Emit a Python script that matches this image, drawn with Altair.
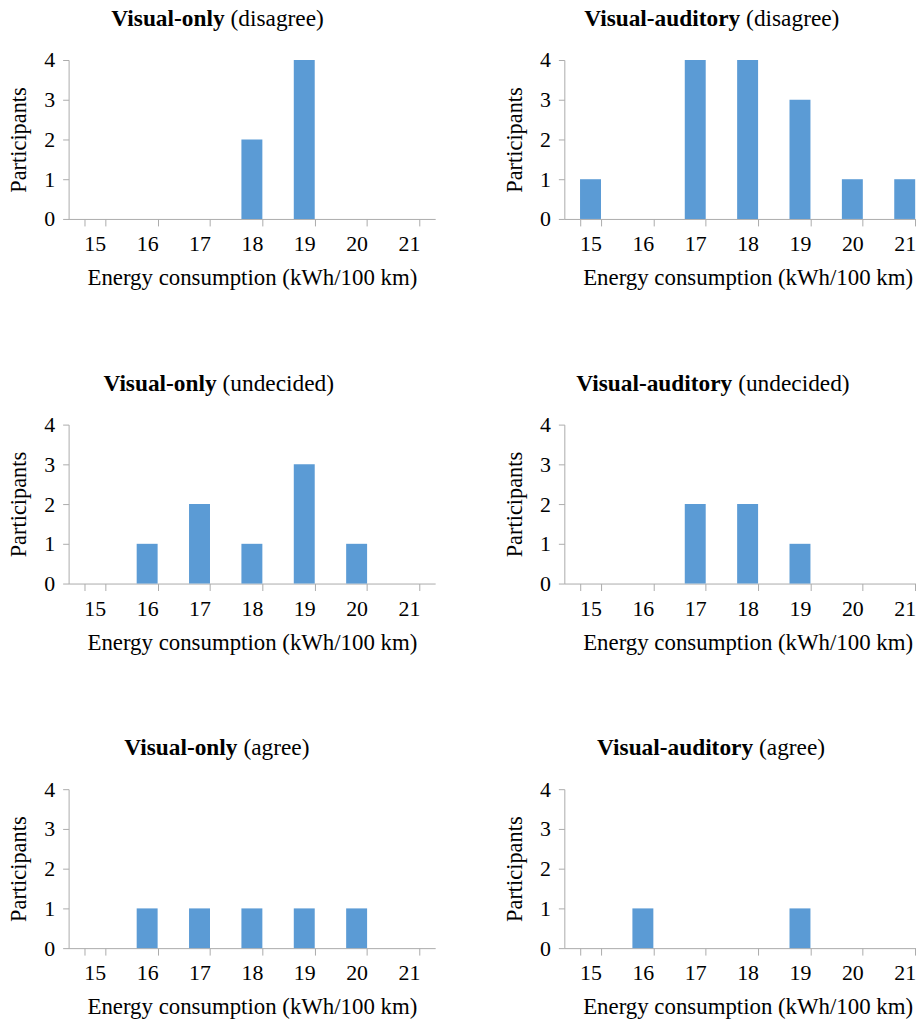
import altair as alt
import pandas as pd

FONT = "'Liberation Serif', 'Times New Roman', Times, serif"
BAR_COLOR = "#5B9BD5"
AXIS_GRAY = "#ABABAB"

# Data
energy = [15, 16, 17, 18, 19, 20, 21]
groups = ["Visual-only", "Visual-auditory"]
responses = ["disagree", "undecided", "agree"]

visual_only_disagree = [0, 0, 0, 2, 4, 0, 0]
visual_auditory_disagree = [1, 0, 4, 4, 3, 1, 1]
visual_only_undecided = [0, 1, 2, 1, 3, 1, 0]
visual_auditory_undecided = [0, 0, 2, 2, 1, 0, 0]
visual_only_agree = [0, 1, 1, 1, 1, 1, 0]
visual_auditory_agree = [0, 1, 0, 0, 1, 0, 0]

series = {
    ("Visual-only", "disagree"): visual_only_disagree,
    ("Visual-auditory", "disagree"): visual_auditory_disagree,
    ("Visual-only", "undecided"): visual_only_undecided,
    ("Visual-auditory", "undecided"): visual_auditory_undecided,
    ("Visual-only", "agree"): visual_only_agree,
    ("Visual-auditory", "agree"): visual_auditory_agree,
}

# Layout: where the bold part of each panel title ends (px from plot left)
title_split = {
    ("Visual-only", "disagree"): 157,
    ("Visual-auditory", "disagree"): 177,
    ("Visual-only", "undecided"): 149,
    ("Visual-auditory", "undecided"): 169,
    ("Visual-only", "agree"): 170,
    ("Visual-auditory", "agree"): 190,
}

W, H = 369, 160


def panel(group, response):
    df = pd.DataFrame({"energy": energy, "participants": series[(group, response)]})
    bars = alt.Chart(df).mark_bar(color=BAR_COLOR).encode(
        x=alt.X(
            "energy:O",
            scale=alt.Scale(domain=energy, paddingInner=0.6, paddingOuter=0.3),
            axis=alt.Axis(
                title="Energy consumption (kWh/100 km)",
                labelAngle=0,
                tickBand="extent",
                tickSize=7,
                labelPadding=8,
                titlePadding=12,
                titleFontSize=23,
            ),
        ),
        y=alt.Y(
            "participants:Q",
            scale=alt.Scale(domain=[0, 4], nice=False),
            axis=alt.Axis(
                title="Participants",
                values=[0, 1, 2, 3, 4],
                format="d",
                tickSize=6,
                labelPadding=8,
                titlePadding=13,
                titleFontSize=22.5,
                grid=False,
            ),
        ),
    )
    tdf = pd.DataFrame({"bold": [group], "normal": [f"({response})"]})
    split = title_split[(group, response)]
    t_bold = alt.Chart(tdf).mark_text(
        align="right", baseline="alphabetic", font=FONT, fontSize=23.5,
        fontWeight="bold", color="black",
    ).encode(text="bold:N", x=alt.value(split), y=alt.value(-34))
    t_norm = alt.Chart(tdf).mark_text(
        align="left", baseline="alphabetic", font=FONT, fontSize=23.5,
        fontWeight="normal", color="black",
    ).encode(text="normal:N", x=alt.value(split + 6), y=alt.value(-34))
    return alt.layer(bars, t_bold, t_norm).properties(width=W, height=H)


rows = [
    alt.hconcat(*[panel(g, r) for g in groups], spacing=69)
    for r in responses
]

chart = (
    alt.vconcat(*rows, spacing=83)
    .properties(padding={"left": 0, "top": -4, "right": -15, "bottom": 0})
    .configure_view(stroke=None)
    .configure_axis(
        labelFont=FONT,
        titleFont=FONT,
        labelFontSize=22,
        titleFontWeight="normal",
        labelColor="black",
        titleColor="black",
        domainColor=AXIS_GRAY,
        tickColor=AXIS_GRAY,
        domainWidth=1,
        tickWidth=1,
    )
)

chart.save("out.html", embed_options={"renderer": "svg", "actions": False})
